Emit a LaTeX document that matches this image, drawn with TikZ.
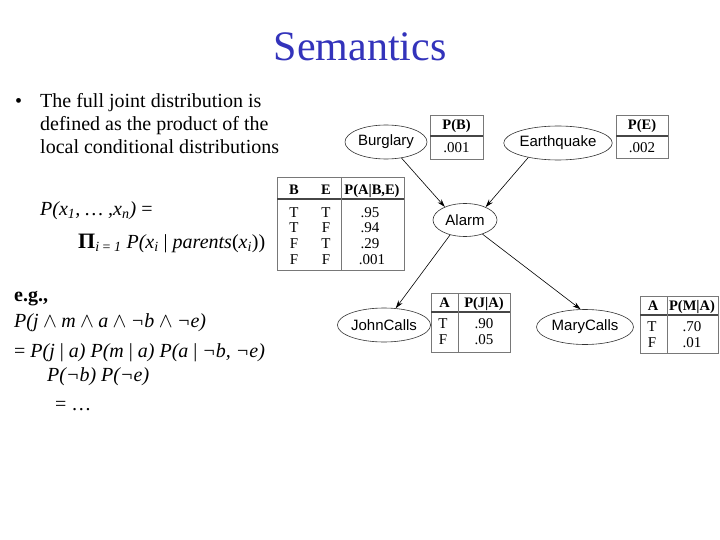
\documentclass[tikz,border=0pt]{standalone}
\usepackage{fontspec}
\setmainfont{Liberation Serif}
\newfontfamily\arialf{Liberation Sans}
\usetikzlibrary{shapes.geometric,arrows.meta}
\definecolor{titleblue}{RGB}{51,51,187}
\definecolor{tabgray}{RGB}{120,120,120}
\definecolor{sepgray}{RGB}{70,70,70}
\newcommand{\myand}{\hspace{0.22em}$\wedge$\hspace{0.22em}}
\begin{document}
\begin{tikzpicture}[x=1pt,y=-1pt,
 txt/.style={anchor=base west,inner sep=0pt,font=\fontsize{20}{23}\selectfont},
 var/.style={ellipse,draw=black!80,line width=0.6pt,inner sep=0pt,font=\arialf\fontsize{15}{17}\selectfont},
 tabbox/.style={draw=tabgray,line width=0.9pt},
 hsep/.style={draw=sepgray,line width=1.6pt},
 vsep/.style={draw=tabgray,line width=0.9pt},
 cell/.style={inner sep=0pt,anchor=base,font=\fontsize{15}{16}\selectfont},
 hcell/.style={inner sep=0pt,anchor=base,font=\bfseries\fontsize{14.5}{16}\selectfont},
 edge/.style={-{Stealth[length=8pt,width=5pt]},line width=0.6pt}
]
\useasboundingbox (0,0) rectangle (720,540);

% title
\node[anchor=base,inner sep=0pt,font=\fontsize{42}{46}\selectfont,text=titleblue] (title) at (360,61) {Semantics};

% bullet text
\node[txt] (bul) at (15,108) {•};
\node[txt] (l1) at (40,108) {The full joint distribution is};
\node[txt] (l2) at (40,131) {defined as the product of the};
\node[txt] (l3) at (40,154) {local conditional distributions};

\node[txt] (f1) at (40,215) {\itshape P(x\textsubscript{1}, … ,x\textsubscript{n}) \upshape =};
\node[txt] (f2) at (78,248) {{\fontsize{22}{23}\selectfont\bfseries Π}\textsubscript{\itshape i \upshape= \itshape 1} \itshape P(x\textsubscript{i} \upshape| \itshape parents\upshape(\itshape x\textsubscript{i}\upshape))};

\node[txt] (eg) at (14,301) {\bfseries e.g.,};
\node[txt] (e1) at (14,327) {\itshape P(j\myand m\myand a\myand ¬b\myand ¬e)};
\node[txt] (e2) at (14,357) {= \itshape P(j \upshape| \itshape a) P(m \upshape| \itshape a) P(a \upshape| \itshape ¬b, ¬e)};
\node[txt] (e3) at (47,381) {\itshape P(¬b) P(¬e)};
\node[txt] (e4) at (55,410) {= …};

% variables
\node[var,minimum width=82pt,minimum height=34pt] (burg) at (386,142) {Burglary};
\node[var,minimum width=104pt,minimum height=34pt] (earth) at (558,143) {Earthquake};
\node[var,minimum width=64pt,minimum height=33pt] (alarm) at (465,220) {Alarm};
\node[var,minimum width=92pt,minimum height=34pt] (john) at (384,325) {JohnCalls};
\node[var,minimum width=97pt,minimum height=35pt] (mary) at (585,327) {MaryCalls};

\draw[edge] (burg.-46.7) -- (alarm.147.5);
\draw[edge] (earth.206) -- (alarm.32.5);
\draw[edge] (alarm.225) -- (john.55.6);
\draw[edge] (alarm.-39.3) -- (mary.104);

% P(B)
\draw[tabbox] (430,115) rectangle (483,159);
\draw[hsep] (430,136) -- (483,136);
\node[hcell] (pbh) at (456.5,130) {P(B)};
\node[cell] (pbv) at (456.5,153) {.001};

% P(E)
\draw[tabbox] (616,115) rectangle (668,158);
\draw[hsep] (616,136) -- (668,136);
\node[hcell] (peh) at (642,130) {P(E)};
\node[cell] (pev) at (642,153) {.002};

% P(A|B,E)
\draw[tabbox] (277,177) rectangle (404,270);
\draw[hsep] (277,199) -- (404,199);
\draw[vsep] (341,177) -- (341,270);
\node[hcell] (ah1) at (294,194.5) {B};
\node[hcell] (ah2) at (326,194.5) {E};
\node[hcell] (ah3) at (372,194.5) {P(A|B,E)};
\node[cell] (a11) at (294,218) {T};
\node[cell] (a12) at (326,218) {T};
\node[cell] (a13) at (370,218) {.95};
\node[cell] (a21) at (294,233) {T};
\node[cell] (a22) at (326,233) {F};
\node[cell] (a23) at (370,233) {.94};
\node[cell] (a31) at (294,248.5) {F};
\node[cell] (a32) at (326,248.5) {T};
\node[cell] (a33) at (370,248.5) {.29};
\node[cell] (a41) at (294,264) {F};
\node[cell] (a42) at (326,264) {F};
\node[cell] (a43) at (372,264) {.001};

% P(J|A)
\draw[tabbox] (431,293) rectangle (510,352);
\draw[hsep] (431,312) -- (510,312);
\draw[vsep] (458,293) -- (458,352);
\node[hcell] (jh1) at (444.5,307.5) {A};
\node[hcell] (jh2) at (484,307.5) {P(J|A)};
\node[cell] (j11) at (443,328) {T};
\node[cell] (j12) at (484,328) {.90};
\node[cell] (j21) at (443,344) {F};
\node[cell] (j22) at (484,344) {.05};

% P(M|A)
\draw[tabbox] (640,296) rectangle (718,353);
\draw[hsep] (640,315) -- (718,315);
\draw[vsep] (667,296) -- (667,353);
\node[hcell] (mh1) at (653,310) {A};
\node[hcell] (mh2) at (692,310) {P(M|A)};
\node[cell] (m11) at (652,331) {T};
\node[cell] (m12) at (692,331) {.70};
\node[cell] (m21) at (652,347) {F};
\node[cell] (m22) at (692,347) {.01};
\end{tikzpicture}
\end{document}
